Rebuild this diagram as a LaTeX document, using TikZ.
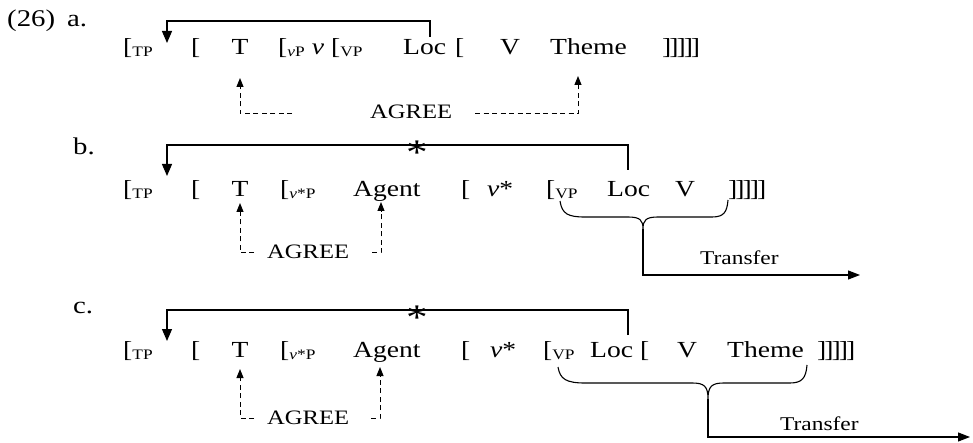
\documentclass[tikz,border=0pt]{standalone}
\usepackage{fontspec}
\setmainfont{Liberation Serif}[FakeStretch=1.2]
\usetikzlibrary{arrows.meta}
\newcommand\sbs[1]{\raisebox{-2pt}{\fontsize{14.5}{16}\selectfont #1}}
\newcommand\vv{\textit{v}}
\newcommand\rbr{]\kern-2pt]\kern-2pt]\kern-2pt]\kern-2pt]}
\tikzset{
  wd/.style={anchor=base west, inner sep=0pt, font=\fontsize{23}{26}\selectfont},
  wc/.style={anchor=base, inner sep=0pt, font=\fontsize{23}{26}\selectfont},
  lab/.style={anchor=base west, inner sep=0pt, font=\fontsize{24}{27}\selectfont},
  ag/.style={anchor=base west, inner sep=0pt, font=\fontsize{20.5}{24}\selectfont},
  tr/.style={anchor=base west, inner sep=0pt, font=\fontsize{19.5}{22}\selectfont},
  mv/.style={line width=1.3pt, -{Triangle[length=12pt,width=10pt]}},
  agr/.style={line width=1pt, dash pattern=on 5pt off 3.5pt, -{Triangle[length=9pt,width=7pt]}},
  star/.style={inner sep=0pt, font=\fontsize{36}{36}\selectfont},
  brace/.style={line width=1.1pt},
  tf/.style={line width=1.1pt, -{Triangle[length=12pt,width=9pt]}}
}
\begin{document}
\begin{tikzpicture}[x=1pt,y=-1pt]
\useasboundingbox (0,0) rectangle (973,443);
% labels
\node[lab] (la) at (7,27) {(26)\hspace{12pt}a.};
\node[lab] (lb) at (73,155) {b.};
\node[lab] (lc) at (73,313) {c.};

%%%%%% row a
\node[wd] (aTP) at (123,55) {[\sbs{TP}};
\node[wd] (aB1) at (191,55) {[};
\node[wc] (aT) at (240,55) {T};
\node[wd] (avP) at (278,55) {[\sbs{\textit{v}P}};
\node[wc] (av) at (318,55) {\vv};
\node[wd] (aVP) at (331,55) {[\sbs{VP}};
\node[wd] (aLoc) at (403,55) {Loc};
\node[wd] (aB2) at (455,55) {[};
\node[wc] (aV) at (510,55) {V};
\node[wd] (aTheme) at (550,55) {Theme};
\node[wd] (aEnd) at (662,55) {\rbr};
% movement
\coordinate (amA) at (430,37);
\coordinate (amB) at (430,21);
\coordinate (amC) at (167,21);
\coordinate (amD) at (167,43);
\draw[mv] (amA) -- (amB) -- (amC) -- (amD);
% agree
\coordinate (aaT) at (240,78);
\coordinate (aaT2) at (240,114);
\coordinate (aaT3) at (292,114);
\coordinate (aaH) at (578,76);
\coordinate (aaH2) at (578,114);
\coordinate (aaH3) at (475,114);
\node[ag] (aAgree) at (370,119) {AGREE};
\draw[agr] (aaT3) -- (aaT2) -- (aaT);
\draw[agr] (aaH3) -- (aaH2) -- (aaH);

%%%%%% row b
\node[wd] (bTP) at (123,197) {[\sbs{TP}};
\node[wd] (bB1) at (191,197) {[};
\node[wc] (bT) at (240,197) {T};
\node[wd] (bvP) at (280,197) {[\sbs{\textit{v}*P}};
\node[wd] (bAgent) at (353,197) {Agent};
\node[wd] (bB2) at (461,197) {[};
\node[wd] (bv) at (487,197) {\vv*};
\node[wd] (bVP) at (546,197) {[\sbs{VP}};
\node[wd] (bLoc) at (607,197) {Loc};
\node[wc] (bV) at (685,197) {V};
\node[wd] (bEnd) at (728,197) {\rbr};
% movement
\coordinate (bmA) at (628,170);
\coordinate (bmB) at (628,145);
\coordinate (bmC) at (167,145);
\coordinate (bmD) at (167,176);
\draw[mv] (bmA) -- (bmB) -- (bmC) -- (bmD);
\node[star] (bStar) at (417,153) {*};
% agree
\coordinate (baT) at (240,203);
\coordinate (baT2) at (240,253);
\coordinate (baT3) at (254,253);
\coordinate (baA) at (381,202);
\coordinate (baA2) at (381,253);
\coordinate (baA3) at (372,253);
\node[ag] (bAgree) at (267,259) {AGREE};
\draw[agr] (baT3) -- (baT2) -- (baT);
\draw[agr] (baA3) -- (baA2) -- (baA);
% brace + transfer
\coordinate (bbL) at (560,201);
\coordinate (bbR) at (728,200);
\coordinate (bbM) at (643,229);
\coordinate (bbE) at (643,275);
\coordinate (bbF) at (860,275);
\draw[brace] (bbL) .. controls (562,214) and (568,217) .. (585,217)
  -- (628,217) .. controls (640,217) and (643,220) .. (bbM)
  .. controls (643,220) and (646,217) .. (658,217)
  -- (712,217) .. controls (724,217) and (727,212) .. (bbR);
\draw[tf] (bbM) -- (bbE) -- (bbF);
\node[tr] (bTransfer) at (700,265) {Transfer};

%%%%%% row c
\node[wd] (cTP) at (123,357) {[\sbs{TP}};
\node[wd] (cB1) at (191,357) {[};
\node[wc] (cT) at (240,357) {T};
\node[wd] (cvP) at (280,357) {[\sbs{\textit{v}*P}};
\node[wd] (cAgent) at (353,357) {Agent};
\node[wd] (cB2) at (461,357) {[};
\node[wd] (cv) at (490,357) {\vv*};
\node[wd] (cVP) at (543,357) {[\sbs{VP}};
\node[wd] (cLoc) at (590,357) {Loc};
\node[wd] (cB3) at (640,357) {[};
\node[wc] (cV) at (687,357) {V};
\node[wd] (cTheme) at (727,357) {Theme};
\node[wd] (cEnd) at (817,357) {\rbr};
% movement
\coordinate (cmA) at (628,335);
\coordinate (cmB) at (628,310);
\coordinate (cmC) at (167,310);
\coordinate (cmD) at (167,341);
\draw[mv] (cmA) -- (cmB) -- (cmC) -- (cmD);
\node[star] (cStar) at (417,318) {*};
% agree
\coordinate (caT) at (240,369);
\coordinate (caT2) at (240,418);
\coordinate (caT3) at (254,418);
\coordinate (caA) at (380,367);
\coordinate (caA2) at (380,418);
\coordinate (caA3) at (371,418);
\node[ag] (cAgree) at (267,424) {AGREE};
\draw[agr] (caT3) -- (caT2) -- (caT);
\draw[agr] (caA3) -- (caA2) -- (caA);
% brace + transfer
\coordinate (cbL) at (558,367);
\coordinate (cbR) at (807,365);
\coordinate (cbM) at (708,399);
\coordinate (cbE) at (708,437);
\coordinate (cbF) at (970,437);
\draw[brace] (cbL) .. controls (560,379) and (566,383) .. (585,383)
  -- (692,383) .. controls (704,383) and (708,386) .. (cbM)
  .. controls (708,386) and (712,383) .. (724,383)
  -- (790,383) .. controls (802,383) and (806,378) .. (cbR);
\draw[tf] (cbM) -- (cbE) -- (cbF);
\node[tr] (cTransfer) at (780,430) {Transfer};
\end{tikzpicture}
\end{document}
